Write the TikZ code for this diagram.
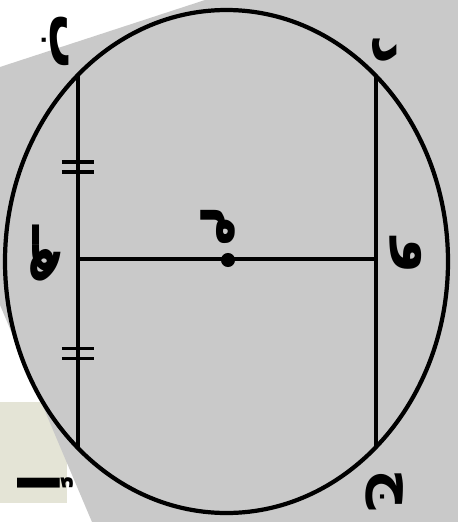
\documentclass[tikz,border=0pt]{standalone}
\usepackage{fontspec}
\newfontfamily\arabicfont[Script=Arabic]{DejaVu Sans}
\TeXXeTstate=1
\usepackage{tikz}
\usetikzlibrary{calc}
\definecolor{bggray}{RGB}{201,201,201}
\definecolor{paper}{RGB}{228,228,214}
\tikzset{
  rim/.style={line width=2.4pt, black},
  chord/.style={line width=2.3pt, black},
  tick/.style={line width=1.8pt, black},
  pt/.style={circle, fill=black, inner sep=0pt, minimum size=8pt},
  lbl/.style={font=\arabicfont\bfseries\fontsize{32}{34}\selectfont, rotate=-90, inner sep=0pt},
}
\begin{document}
\begin{tikzpicture}[x=0.02cm, y=-0.02cm]
\useasboundingbox (0,0) rectangle (458,522);
% page background
\fill[white] (0,0) rectangle (458,522);
\fill[paper] (0,402) rectangle (67,503);
\fill[bggray] (205,0) -- (458,0) -- (458,522) -- (92,522) -- (0,305) -- (0,67) -- cycle;
% circle and chords
\coordinate (O) at (226.5,261.5);
\draw[rim] (O) ellipse [x radius=221.5, y radius=251.5];
\coordinate (B) at (78,75);
\coordinate (A) at (78,448);
\coordinate (D) at (376,77);
\coordinate (C) at (376,446);
\coordinate (E) at (78,259);
\coordinate (F) at (376,259);
\draw[chord] (B) -- (A);
\draw[chord] (D) -- (C);
\draw[chord] (E) -- (F);
\node[pt] (M) at (228,260) {};
% equal parts
\coordinate (t1) at ($(B)!0.5!(E)$);
\coordinate (t2) at ($(E)!0.5!(A)$);
\foreach \t in {t1,t2} {
  \draw[tick] ($(\t)+(-16,-5)$) -- ($(\t)+(16,-5)$);
  \draw[tick] ($(\t)+(-16,5)$) -- ($(\t)+(16,5)$);
}
% letters
\node[lbl] (lb) at (55,42) {\beginR ب\endR};
\node[lbl] (ld) at (384,50) {\beginR د\endR};
\node[lbl] (le) at (46,255) {\beginR هـ\endR};
\node[lbl] (lf) at (406,256) {\beginR و\endR};
\node[lbl] (lm) at (218,227) {\beginR م\endR};
\node[lbl] (la) at (45,483) {\beginR أ\endR};
\node[lbl] (lc) at (385,490) {\beginR ج\endR};
\end{tikzpicture}
\end{document}
